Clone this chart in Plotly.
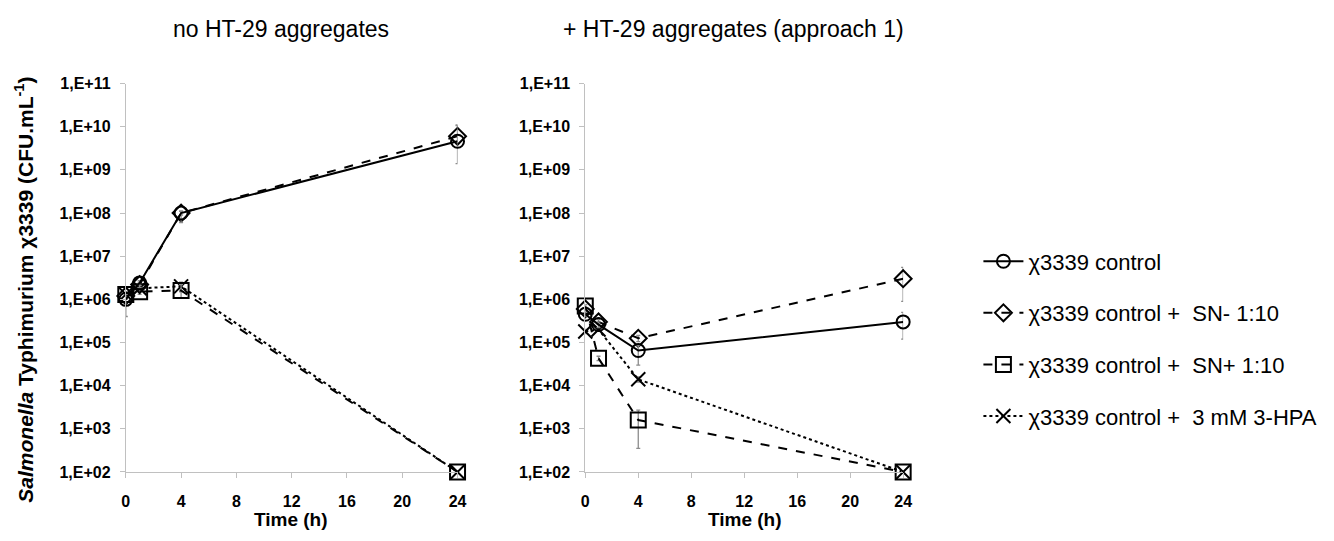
import plotly.graph_objects as go

# ---- data ----
time_h = [0, 1, 4, 24]
y_tickvals = [1e2, 1e3, 1e4, 1e5, 1e6, 1e7, 1e8, 1e9, 1e10, 1e11]
y_ticktext = ["1,E+02", "1,E+03", "1,E+04", "1,E+05", "1,E+06",
              "1,E+07", "1,E+08", "1,E+09", "1,E+10", "1,E+11"]
x_tickvals = [0, 4, 8, 12, 16, 20, 24]

series_names = ["χ3339 control", "χ3339 control +  SN- 1:10",
                "χ3339 control +  SN+ 1:10", "χ3339 control +  3 mM 3-HPA"]

# panel 1: no HT-29 aggregates
p1_control = [1.0e6, 2.4e6, 1.0e8, 4.6e9]
p1_sn_minus = [1.2e6, 2.2e6, 1.0e8, 6.0e9]
p1_sn_plus = [1.3e6, 1.5e6, 1.6e6, 1.0e2]
p1_hpa = [1.3e6, 1.8e6, 2.0e6, 1.0e2]
p1_control_err_p = [3.0e5, 3.0e5, 1.0e7, 6.0e9]
p1_control_err_m = [6.0e5, 3.0e5, 4.0e7, 3.2e9]
p1_sn_minus_err_p = [2.0e5, 3.0e5, 1.0e7, 5.0e9]
p1_sn_minus_err_m = [2.0e5, 3.0e5, 1.0e7, 2.0e9]
p1_sn_plus_err_p = [2.0e5, 2.0e5, 6.0e5, 0]
p1_sn_plus_err_m = [2.0e5, 2.0e5, 5.0e5, 0]
p1_hpa_err_p = [2.0e5, 2.0e5, 5.0e5, 0]
p1_hpa_err_m = [2.0e5, 2.0e5, 5.0e5, 0]

# panel 2: + HT-29 aggregates (approach 1)
p2_control = [4.5e5, 2.6e5, 6.5e4, 3.0e5]
p2_sn_minus = [6.0e5, 3.0e5, 1.25e5, 3.0e6]
p2_sn_plus = [7.0e5, 4.3e4, 1.6e3, 1.0e2]
p2_hpa = [1.8e5, 2.0e5, 1.4e4, 1.0e2]
p2_control_err_p = [5.0e4, 4.0e4, 2.0e4, 2.0e5]
p2_control_err_m = [5.0e4, 4.0e4, 3.5e4, 1.8e5]
p2_sn_minus_err_p = [5.0e4, 4.0e4, 2.0e4, 2.5e6]
p2_sn_minus_err_m = [5.0e4, 4.0e4, 2.0e4, 2.1e6]
p2_sn_plus_err_p = [5.0e4, 5.0e3, 1.1e3, 0]
p2_sn_plus_err_m = [5.0e4, 5.0e3, 1.25e3, 0]
p2_hpa_err_p = [2.0e4, 2.0e4, 2.0e3, 0]
p2_hpa_err_m = [2.0e4, 2.0e4, 2.0e3, 0]

FONT = "Liberation Sans, Arial, sans-serif"
styles = [
    dict(dash="solid", symbol="circle-open", size=13),
    dict(dash="dash", symbol="diamond-open", size=13),
    dict(dash="dash", symbol="square-open", size=15),
    dict(dash="dot", symbol="x-thin-open", size=14),
]

fig = go.Figure()

panels = [
    ("x", "y", [p1_control, p1_sn_minus, p1_sn_plus, p1_hpa],
     [(p1_control_err_p, p1_control_err_m), (p1_sn_minus_err_p, p1_sn_minus_err_m),
      (p1_sn_plus_err_p, p1_sn_plus_err_m), (p1_hpa_err_p, p1_hpa_err_m)], True),
    ("x2", "y2", [p2_control, p2_sn_minus, p2_sn_plus, p2_hpa],
     [(p2_control_err_p, p2_control_err_m), (p2_sn_minus_err_p, p2_sn_minus_err_m),
      (p2_sn_plus_err_p, p2_sn_plus_err_m), (p2_hpa_err_p, p2_hpa_err_m)], False),
]

for xa, ya, vals, errs, show in panels:
    for i in [3, 2, 1, 0]:
        st = styles[i]
        fig.add_trace(go.Scatter(
            x=time_h, y=vals[i], xaxis=xa, yaxis=ya,
            mode="lines+markers", name=series_names[i],
            legendgroup=series_names[i], showlegend=show, legendrank=i + 1,
            line=dict(color="black", width=2, dash=st["dash"]),
            marker=dict(symbol=st["symbol"], size=st["size"], color="black",
                        line=dict(color="black", width=2)),
            error_y=dict(type="data", symmetric=False, array=errs[i][0],
                         arrayminus=errs[i][1], color="#8c8c8c",
                         thickness=1.3, width=2),
            cliponaxis=False,
        ))

axis_common = dict(showline=True, linecolor="#c0c0c0", linewidth=1,
                   ticks="outside", tickcolor="#c0c0c0", ticklen=5,
                   showgrid=False, zeroline=False,
                   tickfont=dict(family=FONT, size=16, color="black", weight="bold"))

ydom = [(541 - 479) / 541, (541 - 78) / 541]
fig.update_layout(
    width=1334, height=541,
    margin=dict(l=0, r=0, t=0, b=0),
    plot_bgcolor="white", paper_bgcolor="white",
    font=dict(family=FONT, color="black"),
    xaxis=dict(domain=[123 / 1334, 458 / 1334], range=[0, 24],
               tickvals=x_tickvals, anchor="y", ticklabelstandoff=10, **axis_common),
    xaxis2=dict(domain=[587 / 1334, 908 / 1334], range=[0, 24],
                tickvals=x_tickvals, anchor="y2", ticklabelstandoff=10, **axis_common),
    yaxis=dict(domain=ydom, type="log", range=[2, 11], tickvals=y_tickvals,
               ticktext=y_ticktext, anchor="x", ticklabelstandoff=6, **axis_common),
    yaxis2=dict(domain=ydom, type="log", range=[2, 11], tickvals=y_tickvals,
                ticktext=y_ticktext, anchor="x2", ticklabelstandoff=6, **axis_common),
    showlegend=True,
    legend=dict(x=984 / 1334, xanchor="left", y=1 - 240 / 541, yanchor="top",
                font=dict(family=FONT, size=22, color="black"),
                tracegroupgap=20, itemwidth=40, bgcolor="rgba(0,0,0,0)"),
)

annotations = [
    dict(text="no HT-29 aggregates", x=280 / 1334, y=1 - 22 / 541,
         font=dict(size=23)),
    dict(text="+ HT-29 aggregates (approach 1)", x=737 / 1334, y=1 - 22 / 541,
         font=dict(size=23)),
    dict(text="Time (h)", x=290 / 1334, y=1 - 528 / 541,
         font=dict(size=19, weight="bold")),
    dict(text="Time (h)", x=748 / 1334, y=1 - 528 / 541,
         font=dict(size=19, weight="bold")),
    dict(text="<i>Salmonella</i> Typhimurium χ3339 (CFU.mL<sup>-1</sup>)",
         x=20 / 1334, y=1 - 291 / 541, textangle=-90,
         font=dict(size=21, weight="bold")),
]
for a in annotations:
    a.update(xref="paper", yref="paper", showarrow=False,
             xanchor="center", yanchor="middle")
    a["font"].update(family=FONT, color="black")
    fig.add_annotation(**a)

fig.write_html("out.html",
               config={"displayModeBar": False},
               post_script="document.body.style.margin='0px';"
                           "document.body.style.overflow='hidden';")
